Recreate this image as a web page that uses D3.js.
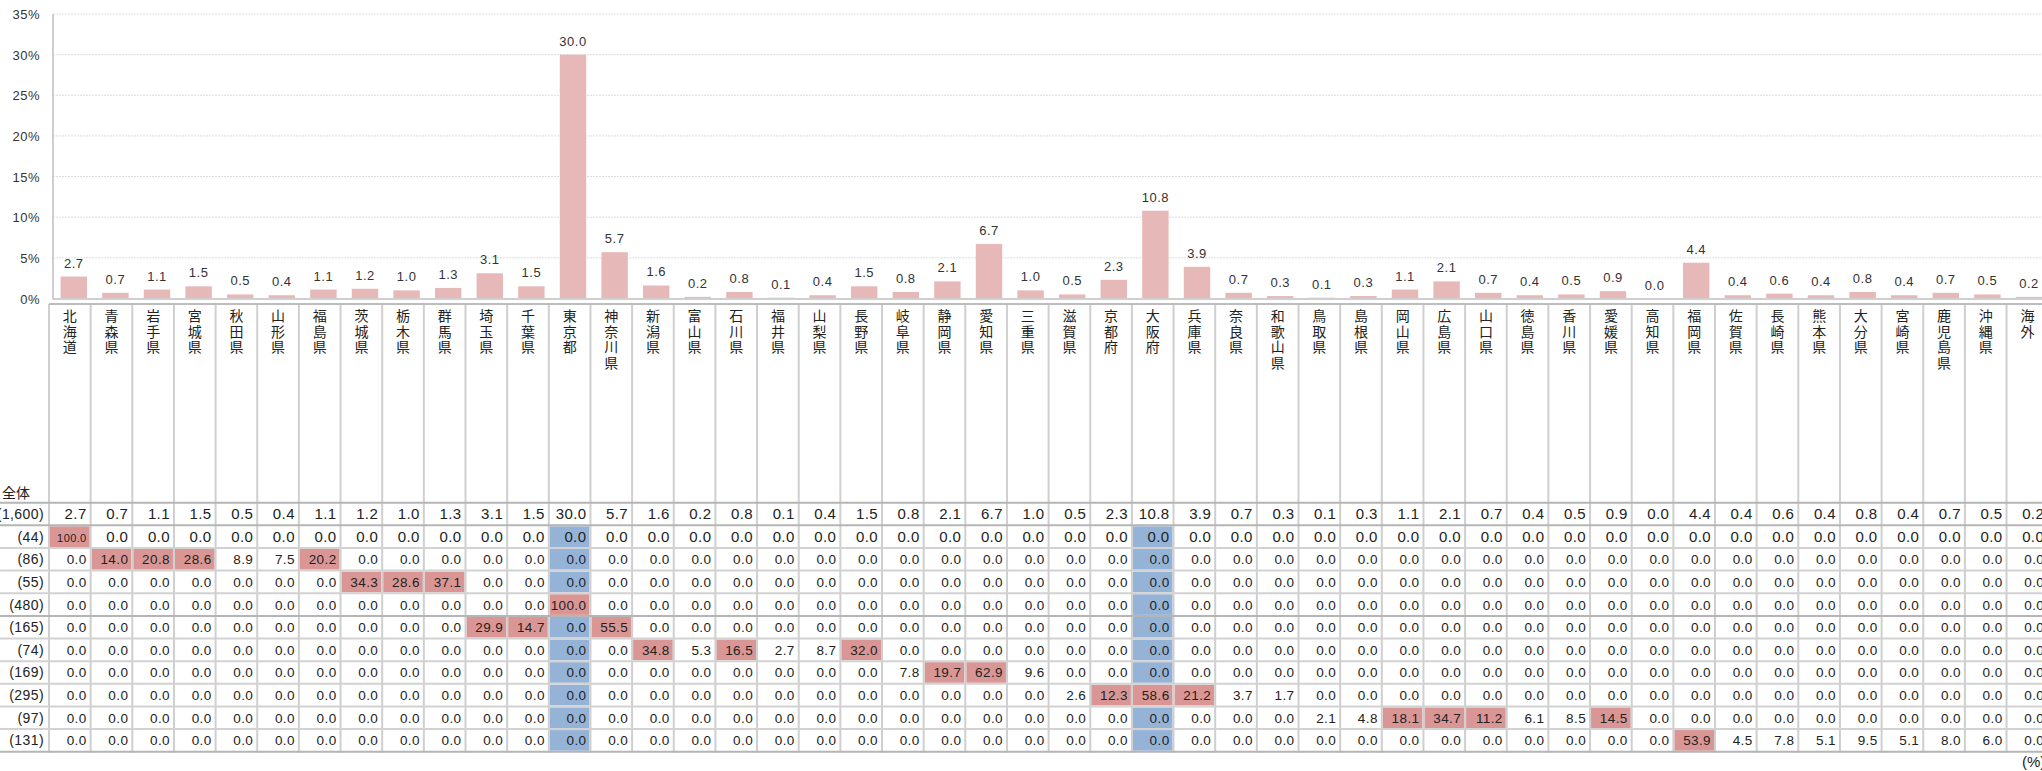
<!DOCTYPE html>
<html>
<head>
<meta charset="utf-8">
<script src="https://cdn.jsdelivr.net/npm/d3@7"></script>
<style>
  body { margin: 0; background: #fff; }
  svg { display: block; }
</style>
</head>
<body>
<svg width="2042" height="771"></svg>
<script>
// prefectures (columns)
var prefs = ["北海道","青森県","岩手県","宮城県","秋田県","山形県","福島県","茨城県","栃木県","群馬県",
  "埼玉県","千葉県","東京都","神奈川県","新潟県","富山県","石川県","福井県","山梨県","長野県",
  "岐阜県","静岡県","愛知県","三重県","滋賀県","京都府","大阪府","兵庫県","奈良県","和歌山県",
  "鳥取県","島根県","岡山県","広島県","山口県","徳島県","香川県","愛媛県","高知県","福岡県",
  "佐賀県","長崎県","熊本県","大分県","宮崎県","鹿児島県","沖縄県","海外"];

// 全体 (n=1,600)
var total = [2.7,0.7,1.1,1.5,0.5,0.4,1.1,1.2,1.0,1.3,3.1,1.5,30.0,5.7,1.6,0.2,0.8,0.1,0.4,1.5,
  0.8,2.1,6.7,1.0,0.5,2.3,10.8,3.9,0.7,0.3,0.1,0.3,1.1,2.1,0.7,0.4,0.5,0.9,0.0,4.4,
  0.4,0.6,0.4,0.8,0.4,0.7,0.5,0.2];

var rowLabels = ["(1,600)","(44)","(86)","(55)","(480)","(165)","(74)","(169)","(295)","(97)","(131)"];

// sub-group rows: only the non-zero cells are listed
var row44  = {"北海道":100.0};
var row86  = {"青森県":14.0,"岩手県":20.8,"宮城県":28.6,"秋田県":8.9,"山形県":7.5,"福島県":20.2};
var row55  = {"茨城県":34.3,"栃木県":28.6,"群馬県":37.1};
var row480 = {"東京都":100.0};
var row165 = {"埼玉県":29.9,"千葉県":14.7,"神奈川県":55.5};
var row74  = {"新潟県":34.8,"富山県":5.3,"石川県":16.5,"福井県":2.7,"山梨県":8.7,"長野県":32.0};
var row169 = {"岐阜県":7.8,"静岡県":19.7,"愛知県":62.9,"三重県":9.6};
var row295 = {"滋賀県":2.6,"京都府":12.3,"大阪府":58.6,"兵庫県":21.2,"奈良県":3.7,"和歌山県":1.7};
var row97  = {"鳥取県":2.1,"島根県":4.8,"岡山県":18.1,"広島県":34.7,"山口県":11.2,"徳島県":6.1,"香川県":8.5,"愛媛県":14.5};
var row131 = {"福岡県":53.9,"佐賀県":4.5,"長崎県":7.8,"熊本県":5.1,"大分県":9.5,"宮崎県":5.1,"鹿児島県":8.0,"沖縄県":6.0};

var yTicks = [0,5,10,15,20,25,30,35];

var subRows = [row44,row86,row55,row480,row165,row74,row169,row295,row97,row131];
var table = [total].concat(subRows.map(function(r){
  return prefs.map(function(p){ return r[p] || 0; });
}));

var svg = d3.select("svg");
var font = "'Liberation Sans', Arial, sans-serif";
var jfont = "'Noto Sans CJK JP', sans-serif";

//---- bar chart
var x = d3.scaleBand().domain(prefs)
  .range([53, 53 + 48 * 41.6]).paddingInner(0.365).paddingOuter(0.1825);
var y = d3.scaleLinear().domain([0,35]).range([298.5,14]);

svg.append("g").selectAll("line").data(yTicks.slice(1)).enter().append("line")
  .attr("x1",53).attr("x2",2042)
  .attr("y1",function(d){return y(d);}).attr("y2",function(d){return y(d);})
  .attr("stroke","#dcdcdc").attr("stroke-width",1).attr("stroke-dasharray","2,1");

svg.append("g").selectAll("text").data(yTicks).enter().append("text")
  .attr("x",40).attr("y",function(d){return y(d) + 5;})
  .attr("text-anchor","end").style("font","13px " + font).attr("fill","#333")
  .attr("letter-spacing","0.5")
  .text(function(d){return d + "%";});

svg.append("g").selectAll("rect").data(prefs).enter().append("rect")
  .attr("x",function(d){return x(d);})
  .attr("width",x.bandwidth())
  .attr("y",function(d,i){return y(total[i]);})
  .attr("height",function(d,i){return y(0) - y(total[i]);})
  .attr("fill","#e6b8b7");

svg.append("g").selectAll("text").data(prefs).enter().append("text")
  .attr("x",function(d){return x(d) + x.bandwidth()/2;})
  .attr("y",function(d,i){return y(total[i]) - 9;})
  .attr("text-anchor","middle").style("font","13px " + font).attr("fill","#333")
  .attr("letter-spacing","0.5")
  .text(function(d,i){return total[i].toFixed(1);});

svg.append("line").attr("x1",53).attr("x2",53).attr("y1",14).attr("y2",299.5)
  .attr("stroke","#cfcfcf").attr("stroke-width",2);
svg.append("line").attr("x1",52).attr("x2",2042).attr("y1",299).attr("y2",299)
  .attr("stroke","#cfcfcf").attr("stroke-width",2);

//---- table
var tx = d3.scaleBand().domain(prefs).range([49, 49 + 48 * 41.65]);
var ty = d3.scaleBand().domain(rowLabels).range([502.7, 751.7]);
var headTop = 304;

// cell colouring: +10pt above 全体 -> pink, -10pt below -> blue
var cells = [];
table.forEach(function(r, ri){
  r.forEach(function(v, ci){
    cells.push({row: rowLabels[ri], ri: ri, col: prefs[ci], v: v, diff: ri ? v - total[ci] : 0});
  });
});

svg.append("g").selectAll("rect").data(cells.filter(function(c){return Math.abs(c.diff) >= 10;}))
  .enter().append("rect")
  .attr("x",function(c){return tx(c.col) + 1;})
  .attr("y",function(c){return ty(c.row) + 1;})
  .attr("width",tx.bandwidth() - 2).attr("height",ty.bandwidth() - 2)
  .attr("fill",function(c){return c.diff > 0 ? "#da9694" : "#95b3d7";});

// grid lines
var grid = svg.append("g");
grid.selectAll(".v").data(d3.range(49)).enter().append("line")
  .attr("x1",function(i){return 49 + i * tx.step();})
  .attr("x2",function(i){return 49 + i * tx.step();})
  .attr("y1",headTop).attr("y2",752.5)
  .attr("stroke","#cfcfcf").attr("stroke-width",2);
grid.append("line").attr("x1",49).attr("x2",2042).attr("y1",headTop).attr("y2",headTop)
  .attr("stroke","#bdbdbd").attr("stroke-width",2);
grid.selectAll(".h").data(rowLabels.concat(["end"])).enter().append("line")
  .attr("x1",0).attr("x2",2042)
  .attr("y1",function(d,i){return 502.7 + i * ty.step();})
  .attr("y2",function(d,i){return 502.7 + i * ty.step();})
  .attr("stroke",function(d,i){return (i === 0 || i === 1 || i === 5 || i === 11) ? "#b5b5b5" : "#d2d2d2";})
  .attr("stroke-width",2);

// vertical column headers
svg.append("g").selectAll("text").data(prefs).enter().append("text")
  .attr("x",function(p){return tx(p) + tx.bandwidth()/2;})
  .attr("y",309)
  .style("writing-mode","vertical-rl")
  .style("font","14px " + jfont)
  .attr("letter-spacing","1.4")
  .attr("fill","#222")
  .text(function(p){return p;});

svg.append("text").attr("x",2).attr("y",498).style("font","14px " + jfont).attr("fill","#222").text("全体");

svg.append("g").selectAll("text").data(rowLabels).enter().append("text")
  .attr("x",44).attr("y",function(d){return ty(d) + ty.bandwidth()/2 + 5;})
  .attr("text-anchor","end").style("font","14px " + font).attr("fill","#222")
  .attr("letter-spacing","0.4")
  .text(function(d){return d;});

svg.append("g").selectAll("text").data(cells).enter().append("text")
  .attr("x",function(c){return tx(c.col) + tx.bandwidth() - 4;})
  .attr("y",function(c){return ty(c.row) + ty.bandwidth()/2 + 5;})
  .attr("text-anchor","end")
  .style("font",function(c){
    var s = c.v.toFixed(1);
    if (c.ri === 1 && s.length > 4) return "11px " + font;
    return (c.ri < 2 ? "15px " : "13.5px ") + font;
  })
  .attr("letter-spacing","0.4")
  .attr("fill","#222")
  .text(function(c){return c.v.toFixed(1);});

svg.append("text").attr("x",2022).attr("y",767).style("font","15px " + font).attr("fill","#222").text("(%)");
</script>
</body>
</html>
